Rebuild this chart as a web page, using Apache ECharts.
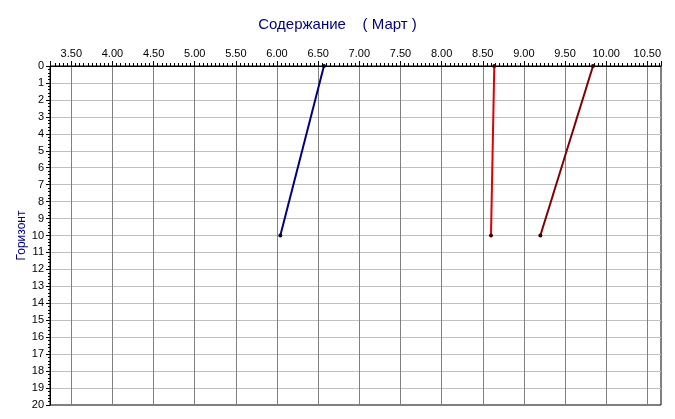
<!DOCTYPE html>
<html><head><meta charset="utf-8">
<script src="https://cdn.jsdelivr.net/npm/echarts@6/dist/echarts.min.js"></script>
<style>html,body{margin:0;padding:0;background:#fff}#c{width:675px;height:419px}</style>
</head><body><div id="c"></div>
<script>
var titleText = 'Содержание    ( Март )';
var yName = 'Горизонт';
var depths = [0, 10];
var seriesBlue = [6.57, 6.04];
var seriesRed = [8.64, 8.60];
var seriesDark = [9.84, 9.20];
var xMin = 3.241, xMax = 10.666;
var yMin = 0, yMax = 20;

function pts(vals){ return vals.map(function(v,i){ return [v, depths[i]]; }); }
var FONT = 'Arial, "Liberation Sans", sans-serif';
var chart = echarts.init(document.getElementById('c'), null, {renderer:'canvas'});
function mk(name, vals, color, mcolor){
  return {name:name, type:'line', data:pts(vals), symbol:'circle', symbolSize:4,
    lineStyle:{color:color, width:2}, itemStyle:{color:mcolor, borderWidth:0}, z:5};
}
chart.setOption({
  animation:false,
  title:{text:titleText, left:'center', top:12, textStyle:{fontFamily:FONT, fontSize:15, fontWeight:'normal', color:'#000080'}},
  grid:{left:50, top:66, right:14, bottom:14, show:true, borderColor:'#000', borderWidth:1, backgroundColor:'transparent'},
  xAxis:{type:'value', position:'top', min:xMin, max:xMax, minInterval:0.5, maxInterval:0.5,
    axisLine:{show:true, lineStyle:{color:'#000', width:1}},
    axisTick:{show:true, length:5, lineStyle:{color:'#000'}},
    minorTick:{show:true, splitNumber:10, length:3, lineStyle:{color:'#000'}},
    axisLabel:{fontFamily:FONT, fontSize:11, color:'#000', margin:7, showMinLabel:false, showMaxLabel:false,
      formatter:function(v){ return v.toFixed(2); }},
    splitLine:{show:true, showMinLine:false, showMaxLine:false, lineStyle:{color:'#808080', width:1}}
  },
  yAxis:{type:'value', inverse:true, min:yMin, max:yMax, interval:1, name:yName, nameLocation:'middle', nameGap:22,
    nameMoveOverlap:false,
    nameTextStyle:{fontFamily:FONT, fontSize:12, color:'#000080'},
    axisLine:{show:true, lineStyle:{color:'#000', width:1}},
    axisTick:{show:true, length:4, lineStyle:{color:'#000'}},
    minorTick:{show:true, splitNumber:5, length:2, lineStyle:{color:'#000'}},
    axisLabel:{fontFamily:FONT, fontSize:11, color:'#000', margin:6},
    splitLine:{show:true, showMinLine:false, showMaxLine:false, lineStyle:{color:'#c0c0c0', width:1}}
  },
  series:[
    mk('A', seriesBlue, '#000080', '#000030'),
    mk('B', seriesRed, '#e00000', '#400000'),
    mk('C', seriesDark, '#800000', '#300000')
  ]
});
</script></body></html>
